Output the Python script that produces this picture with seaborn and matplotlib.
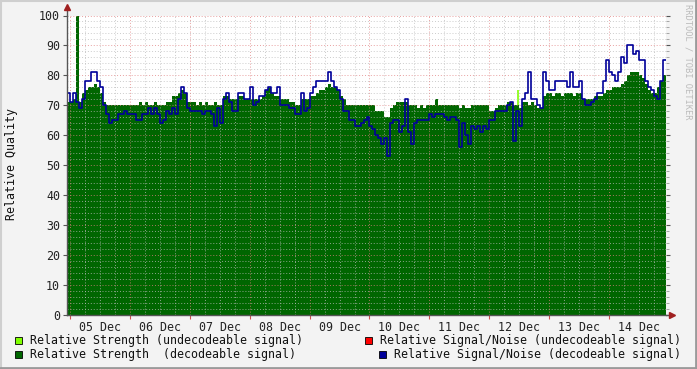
import numpy as np
import matplotlib
matplotlib.use("Agg")
import matplotlib.pyplot as plt
import seaborn as sns
from matplotlib.patches import Rectangle

# ---------------- data ----------------
# samples every 1.2 h, first sample at 04 Dec 22:48 (hours relative to 05 Dec 00:00)
start_hour = -1.2
step_hours = 1.2

strength_decodeable = [
    71, 71, 72, 100, 71, 74, 75, 76, 76, 77, 76, 74, 71, 70, 70, 70, 70, 70, 70, 70,
    70, 70, 70, 70, 71, 70, 71, 70, 70, 71, 70, 70, 70, 71, 71, 73, 73, 74, 75, 74,
    71, 71, 71, 70, 71, 70, 71, 70, 70, 71, 70, 70, 73, 73, 72, 72, 72, 73, 73, 72,
    72, 72, 72, 72, 72, 73, 75, 76, 74, 73, 73, 72, 72, 72, 71, 71, 70, 70, 72, 72,
    72, 73, 73, 74, 75, 75, 76, 77, 76, 76, 75, 73, 72, 70, 70, 70, 70, 70, 70, 70,
    70, 70, 70, 68, 68, 68, 66, 66, 69, 70, 71, 71, 71, 71, 70, 70, 70, 69, 70, 69,
    70, 70, 70, 72, 70, 70, 70, 70, 70, 70, 70, 69, 70, 69, 69, 70, 70, 70, 70, 70,
    70, 68, 68, 69, 70, 70, 70, 71, 71, 70, 70, 69, 71, 71, 70, 71, 70, 69, 69, 73,
    74, 74, 73, 74, 74, 73, 74, 74, 74, 73, 74, 74, 72, 72, 72, 72, 73, 73, 73, 74,
    75, 75, 76, 76, 76, 77, 78, 80, 81, 81, 81, 80, 79, 77, 75, 74, 74, 76, 78, 80,
]

snr_decodeable = [
    74, 71, 74, 71, 69, 72, 78, 78, 81, 81, 78, 76, 70, 67, 64, 65, 65, 67, 67, 68,
    67, 67, 67, 65, 65, 67, 67, 69, 67, 69, 67, 64, 65, 68, 67, 69, 67, 72, 76, 74,
    69, 68, 68, 68, 68, 67, 68, 68, 67, 63, 69, 64, 72, 74, 71, 68, 68, 74, 74, 72,
    72, 76, 70, 71, 73, 73, 75, 76, 74, 74, 76, 70, 70, 70, 69, 69, 67, 67, 74, 68,
    69, 74, 76, 78, 78, 78, 78, 81, 78, 76, 75, 72, 68, 68, 65, 65, 63, 63, 64, 65,
    66, 63, 62, 60, 59, 57, 59, 53, 64, 65, 65, 61, 63, 72, 61, 57, 64, 65, 65, 65,
    65, 67, 66, 67, 67, 67, 66, 65, 66, 66, 65, 56, 64, 60, 57, 63, 62, 63, 61, 63,
    62, 65, 65, 68, 68, 68, 68, 70, 71, 58, 68, 63, 72, 74, 81, 72, 72, 70, 69, 81,
    78, 75, 75, 78, 78, 78, 78, 76, 81, 76, 76, 78, 72, 70, 70, 71, 72, 74, 74, 78,
    85, 81, 80, 78, 81, 86, 84, 90, 90, 87, 88, 85, 85, 78, 76, 75, 73, 72, 78, 85,
]

# undecodeable signal samples (only a single short burst in this period)
strength_undecodeable_idx = [150]
strength_undecodeable_val = [75]

day_labels = ["05 Dec", "06 Dec", "07 Dec", "08 Dec", "09 Dec",
              "10 Dec", "11 Dec", "12 Dec", "13 Dec", "14 Dec"]

legend_labels = [
    "Relative Strength (undecodeable signal)",
    "Relative Strength  (decodeable signal)",
    "Relative Signal/Noise (undecodeable signal)",
    "Relative Signal/Noise (decodeable signal)",
]

# ---------------- styling ----------------
C_DEC_STR = "#006600"
C_UNDEC_STR = "#80FF00"
C_UNDEC_SNR = "#FF0000"
C_DEC_SNR = "#000099"
BACK = "#F3F3F3"

sns.set_theme(style="white")
plt.rcParams["font.family"] = ["DejaVu Sans Mono", "DejaVu Sans"]
FS = 8.4

W, H = 697, 369
fig = plt.figure(figsize=(W / 100, H / 100), dpi=100, facecolor=BACK)

x0, x1 = 67, 666
y_top, y_bot = 15.5, 315
ax = fig.add_axes([x0 / W, 1 - y_bot / H, (x1 - x0) / W, (y_bot - y_top) / H])
ax.set_facecolor("white")

n = len(strength_decodeable)
hours = start_hour + step_hours * np.arange(n)
x_edges = np.append(hours, hours[-1] + step_hours)
g = np.append(strength_decodeable, strength_decodeable[-1]).astype(float)
b = np.append(snr_decodeable, snr_decodeable[-1]).astype(float)

# undecodeable strength bursts
ax.vlines(hours[strength_undecodeable_idx] + step_hours / 2, 0,
          strength_undecodeable_val, color=C_UNDEC_STR, lw=1.2, zorder=1)

# decodeable strength area
ax.fill_between(x_edges, 0, g, step="post", color=C_DEC_STR, lw=0, zorder=2)

# grid on top of area
xmin, xmax = x_edges[0], x_edges[-1]
for v in range(2, 101, 2):
    major = v % 10 == 0
    ax.axhline(v, color="#E08080" if major else "#BBBBBB", lw=0.7,
               ls=(0, (1, 2)), alpha=0.75, zorder=3)
for h in np.arange(0, 240, 6):
    major = h % 24 == 0
    ax.axvline(h, color="#E08080" if major else "#BBBBBB", lw=0.7,
               ls=(0, (1, 2)), alpha=0.75, zorder=3)

# S/N line
sns.lineplot(x=x_edges, y=b, drawstyle="steps-post", color=C_DEC_SNR,
             lw=1.2, estimator=None, ax=ax, zorder=4)

ax.set_xlim(xmin, xmax)
ax.set_ylim(0, 100)

# axes
for s in ["top", "right"]:
    ax.spines[s].set_visible(False)
for s in ["left", "bottom"]:
    ax.spines[s].set_color("#555555")
    ax.spines[s].set_linewidth(1.0)
    ax.spines[s].set_zorder(5)

ax.set_yticks(range(0, 101, 10))
ax.set_yticklabels([str(v) for v in range(0, 101, 10)], fontsize=FS, color="#222222")
ax.tick_params(axis="y", which="major", length=3, width=0.8, color="#555555",
               pad=2, direction="out", left=True, right=True)
ax.set_yticks(range(0, 101, 2), minor=True)
ax.tick_params(axis="y", which="minor", length=2, width=0.6, color="#999999",
               left=False, right=True)

ax.set_xticks(np.arange(0, 240, 24))
ax.set_xticklabels([""] * 10)
ax.tick_params(axis="x", which="major", length=3, width=0.8, color="#D05050",
               direction="out", bottom=True)
ax.set_xticks(np.arange(12, 240, 24), minor=True)
ax.set_xticklabels(day_labels, minor=True, fontsize=FS, color="#222222")
ax.tick_params(axis="x", which="minor", length=0, pad=4)
ax.set_xlabel("")
ax.set_ylabel("")

# axis arrows
ax.plot([0, 0], [1, 1.025], transform=ax.transAxes, color="#555555", lw=1.0, clip_on=False)
ax.plot([0], [1.03], marker="^", ms=4, color="#A02020", transform=ax.transAxes, clip_on=False)
ax.plot([1, 1.008], [0, 0], transform=ax.transAxes, color="#555555", lw=1.0, clip_on=False)
ax.plot([1.01], [0], marker=">", ms=4, color="#A02020", transform=ax.transAxes, clip_on=False)

# y label and watermark
fig.text(12 / W, 1 - 164 / H, "Relative Quality", rotation=90, ha="center",
         va="center", fontsize=FS, color="#111111")
fig.text(688 / W, 1 - 4 / H, "RRDTOOL / TOBI OETIKER", rotation=270, ha="center",
         va="top", fontsize=6.3, color="#BBBBBB")

# legend
legend_items = [
    (15, 337, 30, legend_labels[0], C_UNDEC_STR),
    (15, 351, 30, legend_labels[1], C_DEC_STR),
    (365, 337, 380, legend_labels[2], C_UNDEC_SNR),
    (379, 351, 394, legend_labels[3], C_DEC_SNR),
]
for sx, sy, tx, label, col in legend_items:
    fig.patches.append(Rectangle((sx / W, 1 - (sy + 7) / H), 7 / W, 7 / H,
                                 transform=fig.transFigure, facecolor=col,
                                 edgecolor="black", lw=0.6))
    fig.text(tx / W, 1 - (sy + 3.5) / H, label, ha="left", va="center",
             fontsize=FS, color="#111111")

# frame border
fig.add_artist(plt.Line2D([0, 1], [1 - 0.5 / H] * 2, transform=fig.transFigure, color="#CFCFCF", lw=1.5))
fig.add_artist(plt.Line2D([0.5 / W] * 2, [0, 1], transform=fig.transFigure, color="#CFCFCF", lw=1.5))
fig.add_artist(plt.Line2D([0, 1], [1 / H] * 2, transform=fig.transFigure, color="#9A9A9A", lw=2))
fig.add_artist(plt.Line2D([1 - 1 / W] * 2, [0, 1], transform=fig.transFigure, color="#9A9A9A", lw=2))

fig.savefig("out.png", dpi=100, facecolor=BACK)
